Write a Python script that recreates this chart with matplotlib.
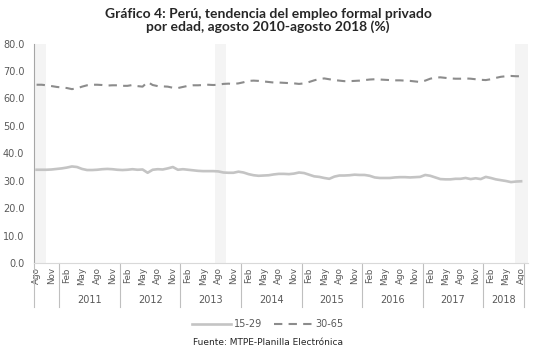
import numpy as np
import matplotlib
matplotlib.use("Agg")
import matplotlib.pyplot as plt
import matplotlib.transforms as mtransforms

# datos mensuales, agosto 2010 - agosto 2018
jov_15_29 = [
    34.0, 34.0, 34.0, 34.1, 34.3,                                              # 2010
    34.5, 34.8, 35.2, 35.0, 34.3, 33.9, 33.9, 34.0, 34.2, 34.3, 34.2, 34.0,    # 2011
    33.9, 34.0, 34.2, 34.0, 34.1, 32.9, 34.0, 34.2, 34.1, 34.5, 35.0, 34.0,    # 2012
    34.2, 34.0, 33.8, 33.6, 33.5, 33.5, 33.5, 33.4, 33.0, 32.9, 32.9, 33.3,    # 2013
    33.0, 32.4, 32.0, 31.8, 31.9, 32.0, 32.3, 32.5, 32.5, 32.4, 32.6, 33.0,    # 2014
    32.8, 32.2, 31.6, 31.4, 31.0, 30.7, 31.5, 31.9, 31.9, 32.0, 32.2, 32.1,    # 2015
    32.1, 31.8, 31.2, 31.0, 31.0, 31.0, 31.2, 31.3, 31.3, 31.2, 31.3, 31.4,    # 2016
    32.1, 31.8, 31.2, 30.6, 30.5, 30.5, 30.7, 30.7, 31.0, 30.6, 30.9, 30.6,    # 2017
    31.4, 31.0, 30.5, 30.2, 29.9, 29.5, 29.7, 29.8,                            # 2018
]
adul_30_65 = [
    65.0, 65.0, 64.8, 64.5, 64.2,
    64.0, 63.8, 63.4, 63.7, 64.3, 64.8, 65.0, 65.0, 64.9, 64.7, 64.8, 64.8,
    64.6, 64.6, 64.9, 64.5, 64.3, 66.0, 64.9, 64.5, 64.4, 64.3, 63.9, 63.8,
    64.2, 64.6, 64.8, 64.8, 64.9, 65.0, 64.9, 65.0, 65.3, 65.4, 65.3, 65.5,
    65.9, 66.4, 66.5, 66.4, 66.2, 66.0, 65.8, 65.8, 65.7, 65.6, 65.5, 65.3,
    65.5, 66.0, 66.6, 67.1, 67.3, 67.0, 66.7, 66.5, 66.3, 66.3, 66.4, 66.5,
    66.7, 66.9, 67.0, 66.9, 66.8, 66.7, 66.6, 66.6, 66.5, 66.4, 66.2, 66.0,
    66.5, 67.2, 67.6, 67.7, 67.5, 67.3, 67.2, 67.2, 67.3, 67.2, 67.0, 66.8,
    66.7, 67.0, 67.5, 67.9, 68.1, 68.2, 68.1, 68.1,
]
meses = ["Ago", "Nov", "Feb", "May"]
anios = ["2011", "2012", "2013", "2014", "2015", "2016", "2017", "2018"]

x = np.arange(len(jov_15_29))

fig = plt.figure(figsize=(5.36, 3.53), dpi=100)
ax = fig.add_axes([34.06 / 536, 90 / 353, 493.6 / 536, 219.4 / 353])

# franjas sombreadas
for a, b in [(-0.3, 1.8), (35.4, 37.5), (94.8, 97.3)]:
    ax.axvspan(a, b, color="#f4f4f4", lw=0, zorder=0)

l1, = ax.plot(x, jov_15_29, color="#c4c4c4", lw=1.9, label="15-29", zorder=3)
l2, = ax.plot(x, adul_30_65, color="#8c8c8c", lw=1.5, ls=(0, (4, 3)),
              label="30-65", zorder=3)

ax.set_xlim(-0.5, 97.3)
ax.set_ylim(0, 80)
ax.set_yticks(np.arange(0, 81, 10))
ax.set_yticklabels([f"{v:.1f}" for v in range(0, 81, 10)])
ax.tick_params(axis="y", length=0, pad=7, labelsize=7, labelcolor="#595959")

ticks = np.arange(0, 97, 3)
ax.set_xticks(ticks)
ax.set_xticklabels([meses[i % 4] for i in range(len(ticks))], rotation=90)
ax.tick_params(axis="x", length=0, pad=3, labelsize=6.3, labelcolor="#595959")

for s in ["top", "right"]:
    ax.spines[s].set_visible(False)
ax.spines["left"].set_color("#a6a6a6")
ax.spines["bottom"].set_color("#d9d9d9")

# separadores de anios y etiquetas
trans = mtransforms.blended_transform_factory(ax.transData, ax.transAxes)
seps = [-0.5] + [4.5 + 12 * i for i in range(8)] + [96.5]
for s in seps:
    ax.plot([s, s], [0, -0.2], transform=trans, color="#bfbfbf", lw=0.8,
            clip_on=False)
for i, a in enumerate(anios):
    c = 4.5 + 12 * i + 6 if i < 7 else (88.5 + 96.5) / 2
    ax.text(c, -0.168, a, transform=trans, ha="center", va="center",
            fontsize=7, color="#595959")

fig.text(0.5, 0.977, "Gráfico 4: Perú, tendencia del empleo formal privado\n"
         "por edad, agosto 2010-agosto 2018 (%)", ha="center", va="top",
         fontsize=10, fontweight="bold", family="Lato", color="#262626",
         linespacing=1.0)

fig.legend(handles=[l1, l2], loc="center", bbox_to_anchor=(0.5, 0.082),
           ncol=2, frameon=False, fontsize=7, handlelength=4,
           columnspacing=1.2, handletextpad=0.3, labelcolor="#595959")

fig.text(0.5, 0.03, "Fuente: MTPE-Planilla Electrónica", ha="center",
         va="center", fontsize=6.5, color="#262626")

fig.savefig("out.png", dpi=100)
